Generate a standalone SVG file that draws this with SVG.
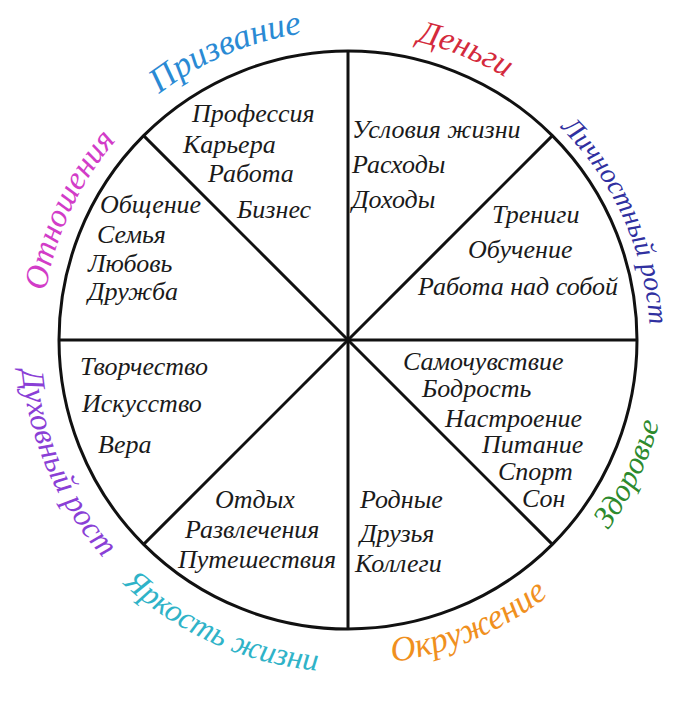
<svg xmlns="http://www.w3.org/2000/svg" width="700" height="702" viewBox="0 0 700 702">
<style>
.t{font-family:"Liberation Serif","DejaVu Serif",serif;font-style:italic;font-size:26px;fill:#1a1a1a}
.o{font-family:"Liberation Serif","DejaVu Serif",serif;font-style:italic;text-anchor:middle}
.ln{stroke:#111;stroke-width:3;fill:none}
</style>
<defs>
<path id="pPriz" d="M79.5,185 A310,310 0 0 1 423,39.2"/>
<path id="pDen" d="M348,34 A306,306 0 0 1 560.6,119.9"/>
<path id="pLich" d="M524.3,97.3 A302,302 0 0 1 648.4,371.6"/>
<path id="pZdor" d="M532.7,603.8 A322,322 0 0 0 669.2,317.5"/>
<path id="pOkr" d="M308.4,662.6 A325,325 0 0 0 607.5,535.6"/>
<path id="pYark" d="M79.4,535.1 A332,332 0 0 0 382.7,670.2"/>
<path id="pDuh" d="M21.8,305.7 A330,330 0 0 0 150.6,601.9"/>
<path id="pOtn" d="M43.2,366.7 A306,306 0 0 1 172.5,89.3"/>
</defs>
<rect width="700" height="702" fill="#fff"/>
<g id="connectors">
<circle class="ln" cx="348" cy="340" r="289"/>
<line class="ln" x1="348" y1="51" x2="348" y2="629"/>
<line class="ln" x1="59" y1="340" x2="637" y2="340"/>
<line class="ln" x1="143.6" y1="135.6" x2="552.4" y2="544.4"/>
<line class="ln" x1="143.6" y1="544.4" x2="552.4" y2="135.6"/>
</g>
<g id="prizvanie">
<text class="o" font-size="35" fill="#2a8ad4"><textPath href="#pPriz" startOffset="50%">Призвание</textPath></text>
<text class="t" x="192" y="122" font-size="25">Профессия</text>
<text class="t" x="183" y="153">Карьера</text>
<text class="t" x="208" y="182">Работа</text>
<text class="t" x="237" y="218">Бизнес</text>
</g>
<g id="dengi">
<text class="o" font-size="33" fill="#d42a3c"><textPath href="#pDen" startOffset="50%">Деньги</textPath></text>
<text class="t" x="352" y="138" font-size="27">Условия жизни</text>
<text class="t" x="352" y="173">Расходы</text>
<text class="t" x="352" y="208">Доходы</text>
</g>
<g id="lichnostny">
<text class="o" font-size="28" fill="#3030a0"><textPath href="#pLich" startOffset="50%">Личностный рост</textPath></text>
<text class="t" x="492" y="223">Трениги</text>
<text class="t" x="468" y="258">Обучение</text>
<text class="t" x="418" y="295" font-size="27">Работа над собой</text>
</g>
<g id="zdorovie">
<text class="o" font-size="31" fill="#2d8a2d"><textPath href="#pZdor" startOffset="50%">Здоровье</textPath></text>
<text class="t" x="403" y="370">Самочувствие</text>
<text class="t" x="422" y="397">Бодрость</text>
<text class="t" x="445" y="427">Настроение</text>
<text class="t" x="482" y="453">Питание</text>
<text class="t" x="498" y="480">Спорт</text>
<text class="t" x="522" y="507">Сон</text>
</g>
<g id="okruzhenie">
<text class="o" font-size="35" fill="#f0901e"><textPath href="#pOkr" startOffset="50%">Окружение</textPath></text>
<text class="t" x="360" y="508">Родные</text>
<text class="t" x="360" y="542">Друзья</text>
<text class="t" x="355" y="572">Коллеги</text>
</g>
<g id="yarkost">
<text class="o" font-size="32" fill="#2fb3c8"><textPath href="#pYark" startOffset="50%">Яркость жизни</textPath></text>
<text class="t" x="215" y="508">Отдых</text>
<text class="t" x="185" y="538">Развлечения</text>
<text class="t" x="178" y="568" font-size="27">Путешествия</text>
</g>
<g id="duhovny">
<text class="o" font-size="32" fill="#8a3fd6"><textPath href="#pDuh" startOffset="50%">Духовный рост</textPath></text>
<text class="t" x="80" y="375">Творчество</text>
<text class="t" x="82" y="412">Искусство</text>
<text class="t" x="98" y="453">Вера</text>
</g>
<g id="otnosheniya">
<text class="o" font-size="33" fill="#d23cc8"><textPath href="#pOtn" startOffset="50%">Отношения</textPath></text>
<text class="t" x="100" y="213">Общение</text>
<text class="t" x="97" y="243">Семья</text>
<text class="t" x="88" y="272">Любовь</text>
<text class="t" x="88" y="300">Дружба</text>
</g>
</svg>
